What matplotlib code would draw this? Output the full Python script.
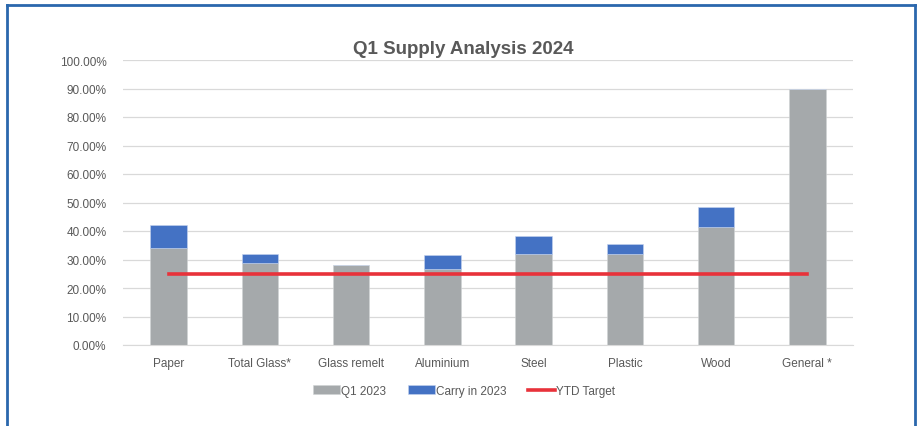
import numpy as np
import matplotlib.pyplot as plt
from matplotlib.lines import Line2D
from matplotlib.ticker import FuncFormatter

categories = ['Paper', 'Total Glass*', 'Glass remelt', 'Aluminium', 'Steel',
              'Plastic', 'Wood', 'General *']
q1_2023 = [0.341, 0.289, 0.279, 0.267, 0.320, 0.320, 0.415, 0.898]
carry_2023 = [0.080, 0.030, 0.002, 0.049, 0.062, 0.036, 0.070, 0.0]
ytd_target = [0.25] * 8

plt.rcParams['font.family'] = ['Liberation Sans Narrow', 'Liberation Sans', 'DejaVu Sans']

fig = plt.figure(figsize=(9.23, 4.27), dpi=100)
ax = fig.add_axes([123/923, 1-346/427, 730/923, 285/427])

x = np.arange(len(categories))
b1 = ax.bar(x, q1_2023, width=0.4, color='#a5a9ab', edgecolor='#d0d3d5', linewidth=0.4,
            label='Q1 2023', zorder=2)
b2 = ax.bar(x, carry_2023, width=0.4, bottom=q1_2023, color='#4472c4', edgecolor='#c5d3ee',
            linewidth=0.4, label='Carry in 2023', zorder=2)
l1, = ax.plot(x, ytd_target, color='#e8323a', linewidth=2.6, label='YTD Target', zorder=3)

ax.set_xlim(-0.5, 7.5)
ax.set_ylim(0, 1.0)
ax.set_yticks(np.arange(0, 1.01, 0.1))
ax.yaxis.set_major_formatter(FuncFormatter(lambda v, p: f'{v*100:.2f}%'))
ax.set_xticks(x)
ax.set_xticklabels(categories)
ax.grid(axis='y', color='#d9d9d9', linewidth=0.9, zorder=0)
for s in ['top', 'right', 'left']:
    ax.spines[s].set_visible(False)
ax.spines['bottom'].set_color('#d9d9d9')
ax.tick_params(length=0, labelsize=8.5, colors='#595959')
ax.tick_params(axis='x', pad=9)
ax.tick_params(axis='y', pad=12)

fig.text(463/923, 1-50/427, 'Q1 Supply Analysis 2024', ha='center', va='center',
         fontsize=13.5, fontweight='bold', color='#595959')

leg = fig.legend([b1, b2, l1], ['Q1 2023', 'Carry in 2023', 'YTD Target'],
                 loc='center', bbox_to_anchor=(464/923, 1-392/427), ncol=3, frameon=False,
                 fontsize=8.5, handlelength=2.3, handleheight=0.8, columnspacing=1.8,
                 handletextpad=0.1, borderaxespad=0)
for t in leg.get_texts():
    t.set_color('#595959')

# blue frame around the chart area
bc = '#2a67ad'
fig.add_artist(Line2D([7.5/923, 7.5/923], [0, 1-5.5/427], color=bc, linewidth=2.0))
fig.add_artist(Line2D([7.5/923, 915/923], [1-5.5/427, 1-5.5/427], color=bc, linewidth=2.0))
fig.add_artist(Line2D([915/923, 915/923], [0, 1-5.5/427], color=bc, linewidth=2.0))

fig.savefig('out.png', dpi=100)
